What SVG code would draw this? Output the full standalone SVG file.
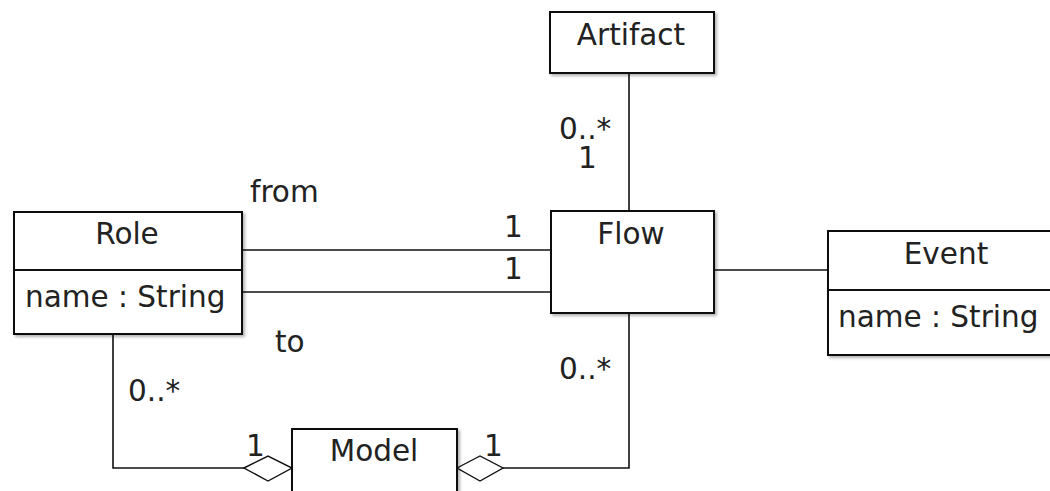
<svg xmlns="http://www.w3.org/2000/svg" width="1050" height="491" viewBox="0 0 1050 491">
<defs>
<filter id="sh" x="-10%" y="-10%" width="130%" height="130%">
<feDropShadow dx="2" dy="2" stdDeviation="1.5" flood-color="#000" flood-opacity="0.3"/>
</filter>
</defs>
<style>
.box{fill:#fff;stroke:#111;stroke-width:2;filter:url(#sh)}
.div{stroke:#111;stroke-width:2}
.ln{fill:none;stroke:#111;stroke-width:1.6}
.dia{fill:#fff;stroke:#111;stroke-width:1.4}
text{font-family:"DejaVu Sans","Liberation Sans",sans-serif;font-size:29.5px;fill:#222}
.c{text-anchor:middle}
</style>
<g id="connectors">
<line class="ln" x1="629" y1="73" x2="629" y2="211"/>
<line class="ln" x1="242" y1="250" x2="551" y2="250"/>
<line class="ln" x1="242" y1="292" x2="551" y2="292"/>
<line class="ln" x1="714" y1="270" x2="828" y2="270"/>
<polyline class="ln" points="113,334 113,468 244,468"/>
<polyline class="ln" points="629,313 629,468 503,468"/>
<polygon class="dia" points="244,468 268,456 292,468 268,481"/>
<polygon class="dia" points="457,468 480,456 503,468 480,481"/>
<text x="559" y="139">0..*</text>
<text x="578" y="168">1</text>
<text x="250" y="202">from</text>
<text x="504" y="237">1</text>
<text x="504" y="279">1</text>
<text x="275" y="352">to</text>
<text x="128" y="401">0..*</text>
<text x="559" y="379">0..*</text>
<text x="246" y="456">1</text>
<text x="484" y="456">1</text>
</g>
<g id="artifact">
<rect class="box" x="550" y="12" width="164" height="61"/>
<text class="c" x="631" y="45">Artifact</text>
</g>
<g id="flow">
<rect class="box" x="551" y="211" width="163" height="102"/>
<text class="c" x="631" y="244">Flow</text>
</g>
<g id="role">
<rect class="box" x="14" y="212" width="228" height="122"/>
<line class="div" x1="14" y1="270" x2="242" y2="270"/>
<text class="c" x="127" y="244">Role</text>
<text x="25" y="307">name : String</text>
</g>
<g id="event">
<rect class="box" x="828" y="231" width="236" height="124"/>
<line class="div" x1="828" y1="290" x2="1064" y2="290"/>
<text class="c" x="946" y="264">Event</text>
<text x="838" y="327">name : String</text>
</g>
<g id="model">
<rect class="box" x="292" y="429" width="165" height="80"/>
<text class="c" x="374" y="461">Model</text>
</g>
</svg>
